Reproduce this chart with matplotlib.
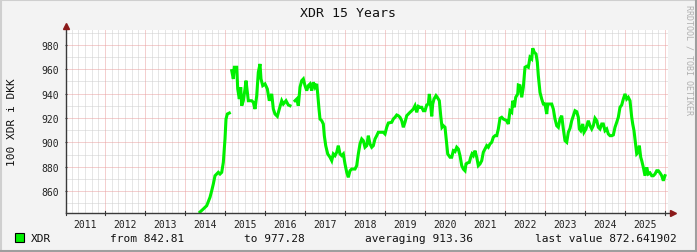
import numpy as np
import matplotlib
matplotlib.use("Agg")
import matplotlib.pyplot as plt
from matplotlib.patches import Rectangle
from matplotlib.lines import Line2D

# ---------------- data (decimal year, value in DKK per 100 XDR) ----------------
years = [
    2014.375, 2014.458, 2014.543, 2014.625, 2014.668, 2014.708, 2014.750, 2014.793, 2014.833, 2014.875,
    2014.918, 2014.958, 2015.000, 2015.025, 2015.058, 2015.108, 2015.140,
    2015.168, 2015.208, 2015.233, 2015.293, 2015.318, 2015.358, 2015.393, 2015.418, 2015.458, 2015.500,
    2015.525, 2015.583, 2015.668, 2015.708, 2015.750, 2015.793, 2015.833, 2015.875, 2015.900, 2015.943,
    2016.000, 2016.058, 2016.108, 2016.168, 2016.208, 2016.250, 2016.308, 2016.358, 2016.418, 2016.458,
    2016.525, 2016.583, 2016.625, 2016.690,
    2016.750, 2016.793, 2016.833, 2016.875, 2016.918, 2016.958, 2017.000, 2017.043, 2017.083, 2017.125,
    2017.168, 2017.208, 2017.250, 2017.293, 2017.318, 2017.350, 2017.375, 2017.418, 2017.458, 2017.483,
    2017.518, 2017.568, 2017.625, 2017.668, 2017.708, 2017.750, 2017.793, 2017.833, 2017.875, 2017.918,
    2017.958, 2018.000, 2018.043, 2018.083, 2018.125, 2018.168, 2018.250, 2018.293, 2018.333, 2018.375,
    2018.418, 2018.458, 2018.500, 2018.543, 2018.583, 2018.625, 2018.668, 2018.708, 2018.750, 2018.793,
    2018.833, 2018.918, 2018.958, 2019.000, 2019.043, 2019.083, 2019.168, 2019.208, 2019.250, 2019.293,
    2019.333, 2019.375, 2019.418, 2019.458, 2019.500, 2019.543, 2019.583, 2019.625, 2019.668, 2019.708,
    2019.750, 2019.793, 2019.833, 2019.875, 2019.918, 2019.958, 2020.000, 2020.043, 2020.083, 2020.108,
    2020.143, 2020.168, 2020.193, 2020.225, 2020.275, 2020.308, 2020.358, 2020.393, 2020.425, 2020.458,
    2020.500, 2020.543, 2020.568, 2020.625, 2020.668, 2020.708, 2020.750, 2020.793, 2020.833, 2020.875,
    2020.918, 2020.958, 2021.000, 2021.025, 2021.058, 2021.108, 2021.143, 2021.175, 2021.208, 2021.250,
    2021.293, 2021.333, 2021.375, 2021.418, 2021.458, 2021.500, 2021.543, 2021.583, 2021.625, 2021.668,
    2021.708, 2021.750, 2021.793, 2021.833, 2021.875, 2021.918, 2021.958, 2022.043, 2022.083, 2022.125,
    2022.168, 2022.193, 2022.233, 2022.268, 2022.318, 2022.333, 2022.375, 2022.418, 2022.458, 2022.500,
    2022.543, 2022.583, 2022.625, 2022.668, 2022.693, 2022.733, 2022.775, 2022.808, 2022.833, 2022.875,
    2022.918, 2022.958, 2023.000, 2023.043, 2023.068, 2023.125, 2023.168, 2023.208, 2023.250, 2023.293,
    2023.333, 2023.375, 2023.418, 2023.458, 2023.500, 2023.543, 2023.583, 2023.625, 2023.668, 2023.708,
    2023.750, 2023.793, 2023.833, 2023.858, 2023.893, 2023.943, 2023.975, 2024.025, 2024.058, 2024.083,
    2024.125, 2024.168, 2024.208, 2024.250, 2024.293, 2024.333, 2024.375, 2024.418, 2024.458, 2024.500,
    2024.543, 2024.583, 2024.625, 2024.668, 2024.708, 2024.750, 2024.793, 2024.833, 2024.875, 2024.918,
    2024.958, 2025.000, 2025.043, 2025.083, 2025.125, 2025.168, 2025.193, 2025.225, 2025.250, 2025.293,
    2025.333, 2025.358, 2025.393, 2025.418, 2025.458, 2025.500, 2025.543, 2025.583, 2025.625, 2025.668,
    2025.708, 2025.750, 2025.793, 2025.833, 2025.875, 2025.918, 2025.958, 2026.000,
]
values = [
    842.81, 845.3, 848.0, 854.9, 860.3, 865.8, 872.6, 874.0, 875.4, 874.0,
    875.4, 883.6, 902.8, 919.2, 923.3, 924.1, np.nan,
    958.9, 952.1, 961.7, 961.7, 943.9, 935.6, 945.3, 930.1, 934.2, 943.9,
    950.7, 934.2, 934.2, 932.9, 927.4, 938.4, 957.6, 964.4, 952.1, 946.6,
    948.0, 943.9, 934.2, 939.8, 927.4, 923.3, 921.4, 927.4, 934.2, 931.5,
    934.2, 930.7, 930.1, np.nan,
    934.2, 935.6, 930.1, 945.3, 950.7, 952.1, 946.6, 942.5, 946.6, 948.0,
    942.5, 949.4, 945.3, 948.0, 939.8, 927.4, 919.2, 917.8, 915.1, 905.5,
    897.3, 890.5, 887.8, 885.0, 890.5, 889.1, 891.9, 897.3, 890.5, 889.1,
    890.5, 882.3, 875.4, 871.3, 876.7, 878.1, 878.1, 880.9, 890.5, 898.7,
    902.8, 901.4, 896.0, 897.3, 905.5, 898.7, 896.0, 897.3, 902.8, 905.5,
    908.3, 908.3, 908.3, 906.9, 912.4, 915.9, 916.5, 919.2, 920.6, 922.5,
    921.9, 920.6, 917.8, 912.4, 916.5, 921.9, 923.3, 924.7, 926.0, 927.4,
    930.1, 924.7, 929.6, 928.8, 928.8, 926.0, 926.0, 930.7, 931.5, 939.8,
    930.1, 921.4, 931.5, 935.6, 938.4, 937.0, 934.2, 921.9, 912.4, 913.7,
    912.4, 898.7, 890.5, 887.8, 887.8, 893.2, 892.4, 896.0, 894.6, 889.1,
    880.9, 878.1, 876.7, 882.3, 883.1, 883.6, 887.8, 890.5, 889.1, 893.2,
    887.8, 880.9, 882.3, 885.0, 891.9, 894.6, 897.3, 896.0, 898.7, 900.1,
    904.2, 905.5, 905.5, 911.0, 919.8, 920.6, 919.2, 917.8, 915.1, 926.0,
    924.7, 934.2, 928.8, 937.0, 939.8, 947.1, 946.6, 937.0, 945.3, 961.7,
    962.5, 961.7, 969.9, 968.5, 977.28, 974.0, 972.6, 965.8, 954.8, 941.1,
    935.6, 931.5, 931.5, 923.3, 931.5, 931.5, 931.5, 927.4, 919.2, 913.7,
    912.4, 919.2, 921.9, 911.0, 901.4, 900.1, 908.3, 911.5, 917.8, 921.9,
    926.0, 925.2, 920.6, 911.0, 909.6, 915.1, 908.3, 911.0, 915.1, 917.8,
    913.7, 911.0, 913.7, 919.8, 917.8, 912.4, 911.0, 915.1, 915.1, 909.6,
    911.0, 906.9, 905.5, 905.5, 906.1, 912.4, 916.5, 920.6, 928.8, 930.7,
    935.6, 939.8, 935.6, 937.0, 934.2, 920.6, 915.1, 909.6, 902.8, 890.5,
    891.9, 897.3, 887.8, 885.0, 879.5, 872.6, 879.5, 874.0, 874.9, 872.6,
    872.6, 874.0, 876.7, 876.7, 874.9, 872.6, 868.5, 872.641902,
]
series_name = "XDR"
title = "XDR 15 Years"
y_label = "100 XDR i DKK"
year_labels = list(range(2011, 2026))
y_tick_values = [860, 880, 900, 920, 940, 960, 980]
stat_min, stat_max, stat_avg, stat_last = 842.81, 977.28, 913.36, 872.641902

# ---------------- figure ----------------
W, H = 697, 253
fig = plt.figure(figsize=(W / 100, H / 100), dpi=100)
fig.patch.set_facecolor("#f3f3f3")
MONO = "DejaVu Sans Mono"

def fx(px):
    return px / W

def fy(py):
    return 1 - py / H

# 3D-ish border like rrdtool
fig.add_artist(Line2D([0, 1], [fy(0.8), fy(0.8)], color="#cfcfcf", lw=1.5, transform=fig.transFigure))
fig.add_artist(Line2D([fx(0.8), fx(0.8)], [0, 1], color="#cfcfcf", lw=1.5, transform=fig.transFigure))
fig.add_artist(Line2D([0, 1], [fy(252.2), fy(252.2)], color="#9e9e9e", lw=1.5, transform=fig.transFigure))
fig.add_artist(Line2D([fx(696.2), fx(696.2)], [0, 1], color="#9e9e9e", lw=1.5, transform=fig.transFigure))

left, right, top, bottom = 66, 668, 31, 213.5
ax = fig.add_axes([fx(left), fy(bottom), fx(right - left), fy(top) - fy(bottom)])
ax.set_facecolor("white")
x0, x1 = 2011.025, 2026.075
ax.set_xlim(x0, x1)
ax.set_ylim(842.4, 992.3)
for s in ax.spines.values():
    s.set_visible(False)

# grid
minor_col, major_col = "#cfcfcf", "#eaa0a0"
dot = (0, (1, 1))
for y in range(850, 995, 10):
    if y % 20 != 0:
        ax.axhline(y, color=minor_col, lw=0.72, ls=dot, zorder=1)
for y in y_tick_values:
    ax.axhline(y, color=major_col, lw=0.72, ls=dot, zorder=1.5)
for yr in range(2011, 2027):
    for m in range(0, 12, 2):
        xv = yr + m / 12
        if x0 < xv < x1:
            if m == 0:
                ax.axvline(xv, color=major_col, lw=0.72, ls=dot, zorder=1.5)
            else:
                ax.axvline(xv, color=minor_col, lw=0.72, ls=dot, zorder=1)

# data line
ax.plot(years, values, color="#00f000", lw=2.2, zorder=3, solid_joinstyle="miter")

# axes lines and arrows
axis_col, arrow_col = "#3a3a3a", "#8b1a1a"
ax.plot([0, 1.008], [0, 0], transform=ax.transAxes, color=axis_col, lw=1, clip_on=False, zorder=4)
ax.plot([0, 0], [0, 1.01], transform=ax.transAxes, color=axis_col, lw=1, clip_on=False, zorder=4)
ax.plot([1.008], [0], transform=ax.transAxes, marker=">", color=arrow_col, ms=4.5, clip_on=False, zorder=5)
ax.plot([0], [1.02], transform=ax.transAxes, marker="^", color=arrow_col, ms=4.5, clip_on=False, zorder=5)

# ticks
ax.set_yticks(y_tick_values)
ax.set_yticklabels([str(v) for v in y_tick_values], fontfamily=MONO, fontsize=7, color="#222222")
ax.tick_params(axis="y", length=2, width=0.8, direction="inout", pad=4, color=axis_col)
ax.set_xticks([y + 0.5 for y in year_labels])
ax.set_xticklabels([str(y) for y in year_labels], fontfamily=MONO, fontsize=7, color="#222222")
ax.tick_params(axis="x", length=0, pad=5)
for yr in range(2011, 2027):
    if x0 <= yr <= x1 or yr == 2011:
        xv = max(yr, x0)
        ax.plot([xv, xv], [-0.012, 0.008], transform=ax.get_xaxis_transform(),
                color=axis_col, lw=0.8, clip_on=False, zorder=4)

# title and labels
fig.text(0.5, fy(13.5), title, ha="center", va="center", fontfamily=MONO, fontsize=9.5, color="#111111")
fig.text(fx(12), fy(122), y_label, ha="center", va="center", rotation=90,
         fontfamily=MONO, fontsize=8, color="#111111")
fig.text(fx(688.5), fy(60), "RRDTOOL / TOBI OETIKER", ha="center", va="center", rotation=-90,
         fontfamily=MONO, fontsize=6, color="#b0b0b0")

# legend row
fig.add_artist(Rectangle((fx(15), fy(243)), fx(9), fy(234) - fy(243), transform=fig.transFigure,
                         facecolor="#00f000", edgecolor="black", lw=0.8))
ly = fy(239)
kw = dict(ha="left", va="center", fontfamily=MONO, fontsize=8, color="#111111")
fig.text(fx(31), ly, series_name, **kw)
fig.text(fx(110), ly, f"from {stat_min:.2f}", **kw)
fig.text(fx(244), ly, f"to {stat_max:.2f}", **kw)
fig.text(fx(365), ly, f"averaging {stat_avg:.2f}", **kw)
fig.text(fx(535), ly, f"last value {stat_last:.6f}", **kw)

fig.savefig("out.png", dpi=100, facecolor=fig.get_facecolor())
